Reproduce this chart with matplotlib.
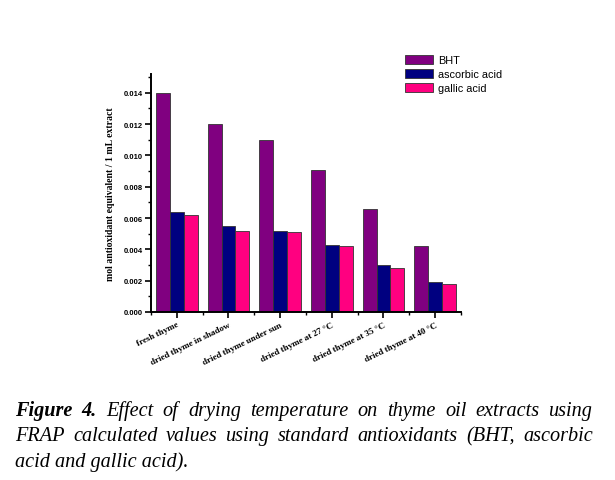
import matplotlib
matplotlib.use('Agg')
import matplotlib.pyplot as plt
import numpy as np
from matplotlib.ticker import MultipleLocator, FixedLocator, NullFormatter

categories = ['fresh thyme', 'dried thyme in shadow', 'dried thyme under sun',
              'dried thyme at 27 \u00b0C', 'dried thyme at 35 \u00b0C', 'dried thyme at 40 \u00b0C']
bht = [0.0140, 0.0120, 0.0110, 0.0091, 0.0066, 0.0042]
ascorbic = [0.0064, 0.0055, 0.0052, 0.0043, 0.0030, 0.0019]
gallic = [0.0062, 0.0052, 0.0051, 0.0042, 0.0028, 0.0018]
series_names = ['BHT', 'ascorbic acid', 'gallic acid']
colors = ['#800080', '#000080', '#ff0080']

caption_lines = [
    [('Figure 4.', 'bold'), ('Effect of drying temperature on thyme oil extracts using', 'normal')],
    [('FRAP calculated values using standard antioxidants (BHT, ascorbic', 'normal')],
    [('acid and gallic acid).', 'normal')],
]

W, H = 615, 481
fig = plt.figure(figsize=(W / 100, H / 100), dpi=100)
ax = fig.add_axes([151 / W, 1 - 313 / H, (461 - 151) / W, (313 - 75) / H])

x = np.arange(len(categories))
bw = 0.27
for i, (vals, name, c) in enumerate(zip([bht, ascorbic, gallic], series_names, colors)):
    ax.bar(x + (i - 1) * bw, vals, bw, color=c, edgecolor='#333333', linewidth=0.6, label=name)

ax.set_xlim(-0.5, len(categories) - 0.5)
ax.set_ylim(0, 0.0152)
ax.spines['top'].set_visible(False)
ax.spines['right'].set_visible(False)
for s in ['left', 'bottom']:
    ax.spines[s].set_linewidth(1.4)

ax.yaxis.set_major_locator(MultipleLocator(0.002))
ax.yaxis.set_minor_locator(MultipleLocator(0.001))
ax.set_yticklabels([f'{v:.3f}' for v in ax.get_yticks()], fontsize=5.5,
                   fontweight='bold', family='Liberation Sans')
ax.set_xticks(x)
ax.xaxis.set_minor_locator(FixedLocator(np.arange(-0.5, len(categories), 1.0)))
ax.xaxis.set_minor_formatter(NullFormatter())
ax.set_xticklabels(categories, rotation=26, ha='right', rotation_mode='anchor',
                   fontsize=6.5, fontweight='bold', family='Liberation Serif')
ax.tick_params(which='major', length=4, width=1.2, direction='out', pad=2)
ax.tick_params(which='minor', length=2.5, width=1.0, direction='out')

ax.set_ylabel('mol antioxidant equivalent / 1 mL extract', fontsize=7,
              fontweight='bold', family='Liberation Serif', labelpad=6)

fig.legend(loc='upper left', bbox_to_anchor=(395 / W, 1 - 46 / H), frameon=False,
           prop={'family': 'Liberation Sans', 'size': 7.8}, handlelength=2.6,
           handleheight=0.9, labelspacing=0.35, handletextpad=0.45)

# justified caption
renderer = fig.canvas.get_renderer()
x0, x1 = 15, 593
baselines = [416, 441, 467]
fs = 14.6
for li, (parts, yb) in enumerate(zip(caption_lines, baselines)):
    if li == len(caption_lines) - 1:
        fig.text(x0 / W, 1 - yb / H, parts[0][0], fontsize=fs, style='italic',
                 family='Liberation Serif', va='baseline', ha='left')
        continue
    words = []
    for text, weight in parts:
        for w in text.split(' '):
            words.append((w, weight))
    arts = []
    for w, weight in words:
        t = fig.text(0, 1 - yb / H, w, fontsize=fs, style='italic', fontweight=weight,
                     family='Liberation Serif', va='baseline', ha='left')
        arts.append(t)
    widths = [a.get_window_extent(renderer).width for a in arts]
    space = (x1 - x0 - sum(widths)) / (len(words) - 1)
    cx = x0
    for a, wdt in zip(arts, widths):
        a.set_x(cx / W)
        cx += wdt + space

fig.savefig('out.png', dpi=100)
